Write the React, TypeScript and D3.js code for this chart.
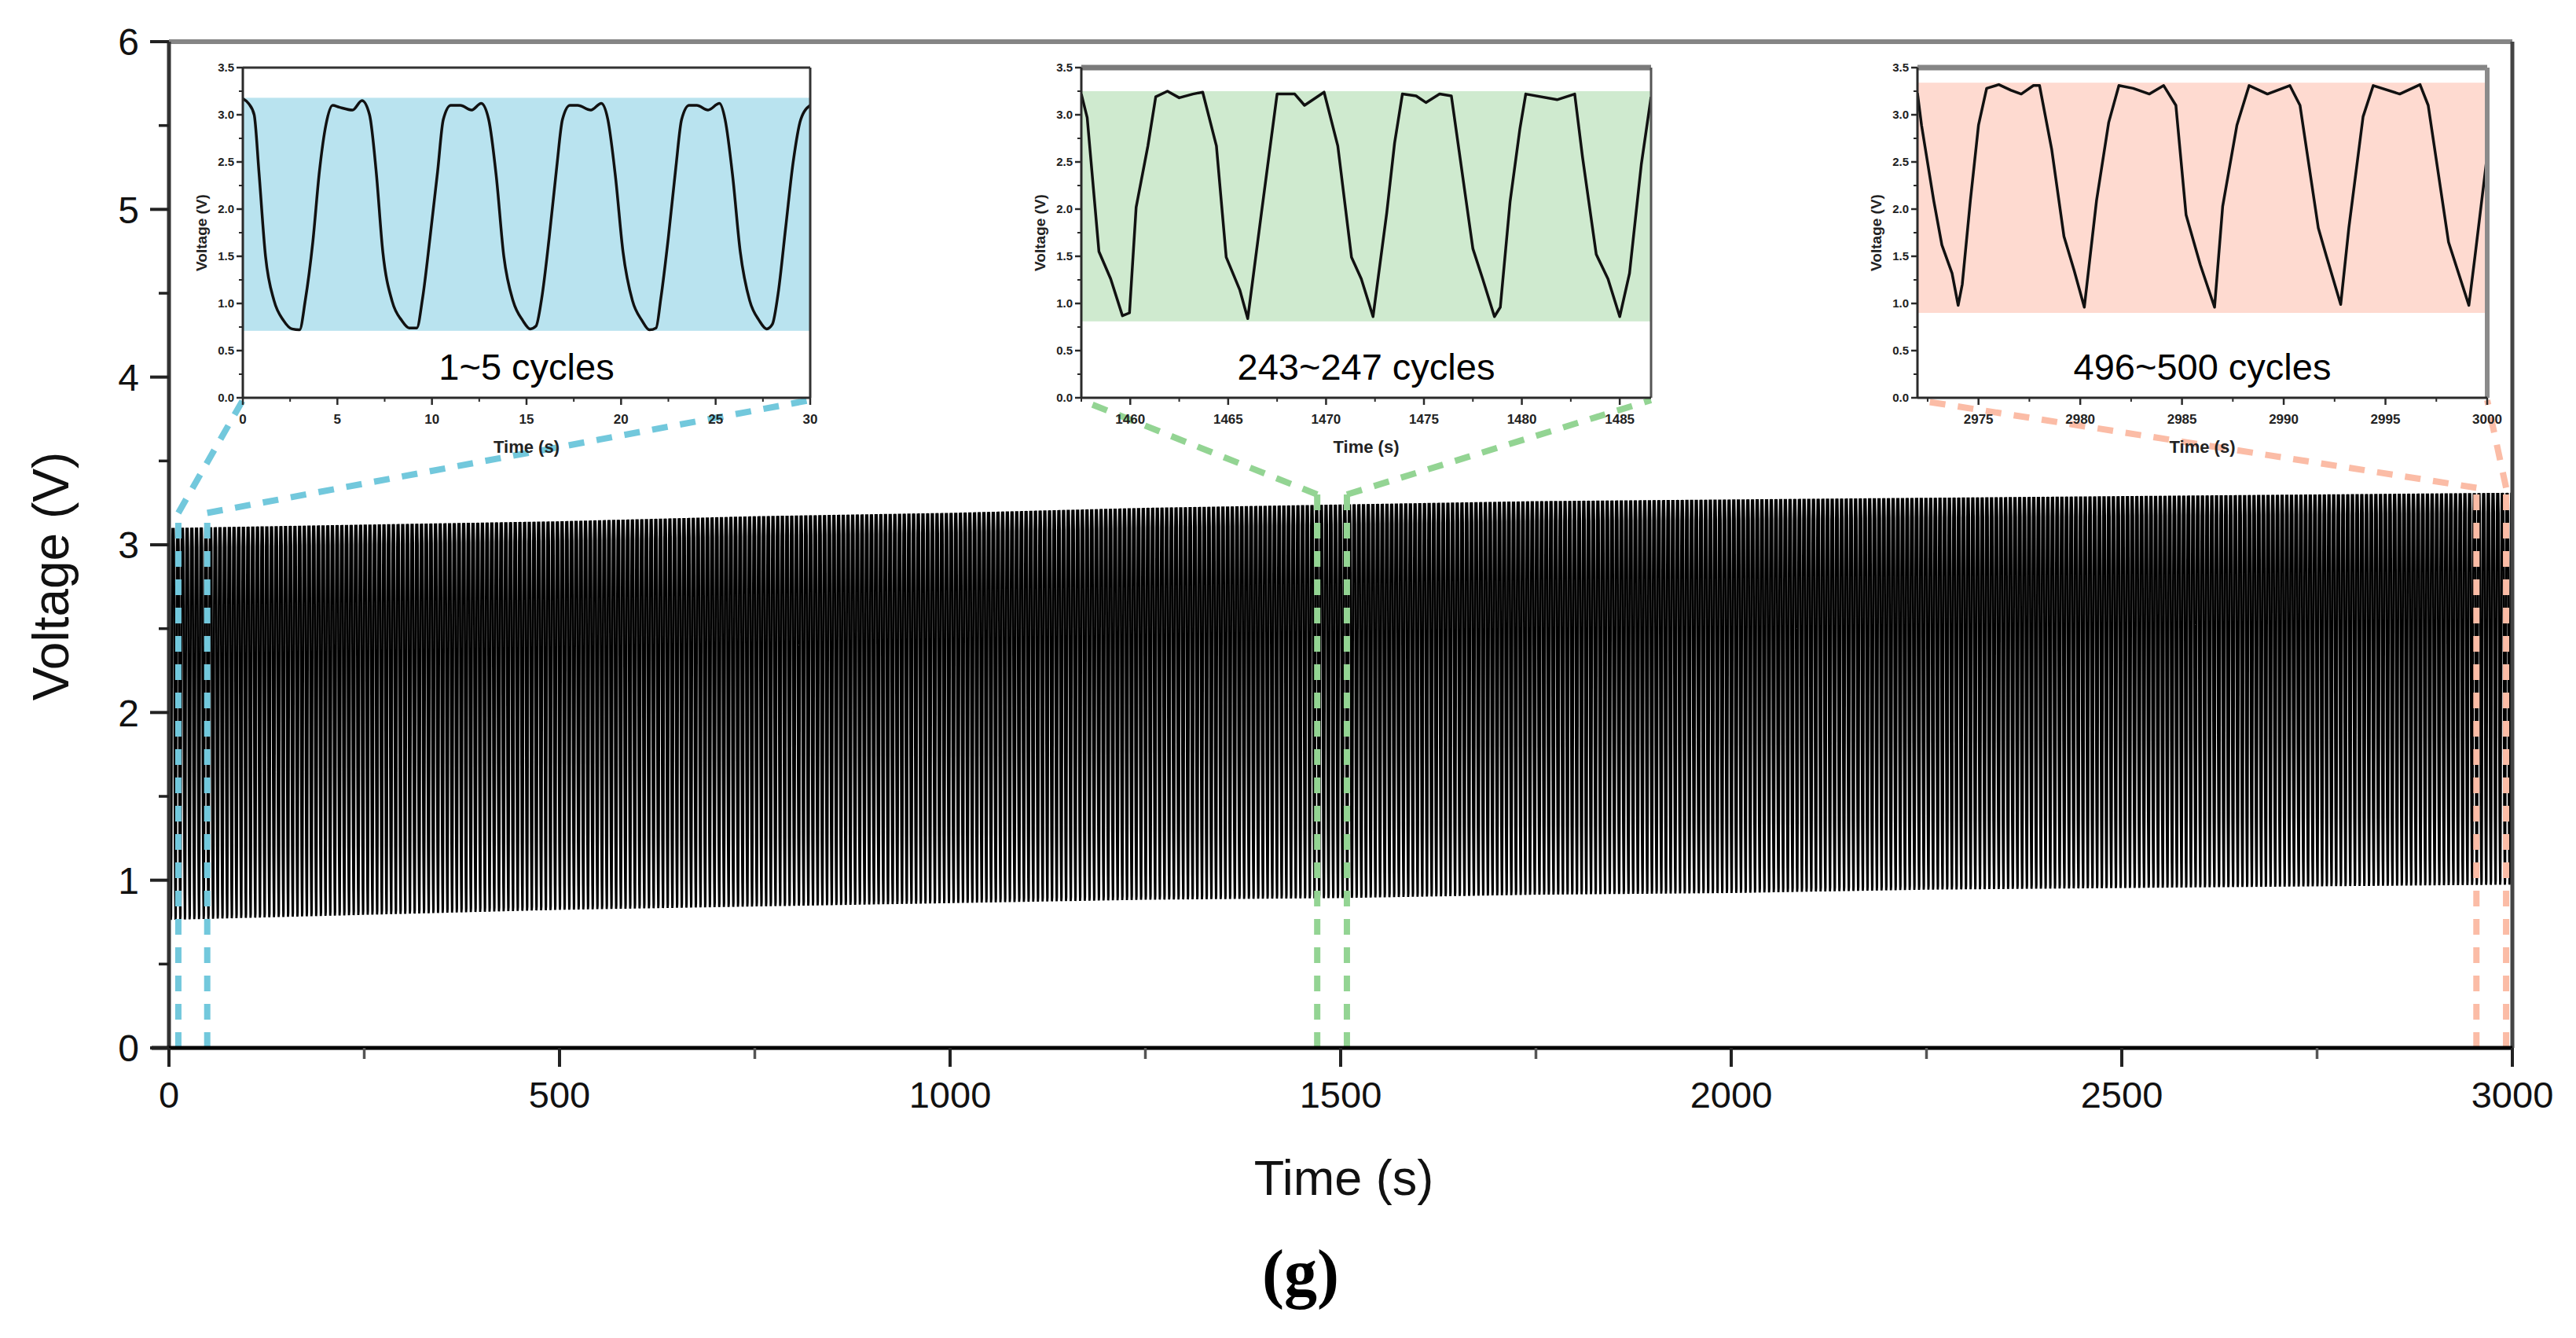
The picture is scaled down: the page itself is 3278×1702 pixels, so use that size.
import React from 'react';
import * as d3 from 'd3';

// ---- main trace: envelope ----
const ENVELOPE_T = [0, 250, 500, 750, 1000, 1250, 1500, 1750, 2000, 2250, 2500, 2750, 3000];
const ENVELOPE_UPPER = [3.1, 3.12, 3.14, 3.17, 3.19, 3.22, 3.24, 3.26, 3.27, 3.28, 3.29, 3.3, 3.31];
const ENVELOPE_LOWER = [0.74, 0.77, 0.8, 0.82, 0.84, 0.86, 0.87, 0.89, 0.9, 0.92, 0.93, 0.94, 0.95];

// one charge/discharge cycle (fraction of period, fraction of swing)
const CYCLE_PHASE = [0, 0.08, 0.14, 0.2, 0.27, 0.34, 0.4, 0.46, 0.52, 0.58, 0.64, 0.7, 0.76, 0.84, 0.92, 1];
const CYCLE_LEVEL = [1, 0.95, 0.7, 0.38, 0.18, 0.07, 0.01, 0.02, 0.2, 0.5, 0.8, 0.95, 1, 0.96, 0.99, 1];
const CYCLE_COUNT = 500;
const CYCLE_PERIOD = 6;

const X_TICKS = [0, 500, 1000, 1500, 2000, 2500, 3000];
const Y_TICKS = [0, 1, 2, 3, 4, 5, 6];

// ---- zoomed windows ----
const ZOOM_LABELS = ['1~5 cycles', '243~247 cycles', '496~500 cycles'];
const ZOOM_START = [12, 1470, 2954];
const ZOOM_END = [49, 1508, 2992];
const ZOOM_TOP = [3.19, 3.3, 3.34];
const ZOOM_DOMAIN: [number, number][] = [[0, 30], [1457.5, 1486.6], [2972, 3000]];
const ZOOM_XTICKS = [
  [0, 5, 10, 15, 20, 25, 30],
  [1460, 1465, 1470, 1475, 1480, 1485],
  [2975, 2980, 2985, 2990, 2995, 3000],
];
const ZOOM_BAND: [number, number][] = [[0.71, 3.18], [0.81, 3.25], [0.9, 3.34]];
const INSET_YTICKS = [0, 0.5, 1, 1.5, 2, 2.5, 3, 3.5];

const INSET1: [number, number][] = [
  [0, 3.17], [0.3, 3.12], [0.6, 3.0], [0.85, 2.4], [1.2, 1.5], [1.65, 1.03], [2.15, 0.82], [2.6, 0.73], [3.0, 0.72],
  [3.3, 1.03], [3.7, 1.65], [4.05, 2.4], [4.4, 2.9], [4.75, 3.1], [5.1, 3.08], [5.8, 3.05], [6.3, 3.15],
  [6.7, 3.0], [7.05, 2.4], [7.4, 1.55], [7.9, 1.02], [8.4, 0.82], [8.8, 0.74], [9.2, 0.74], [9.5, 1.05], [9.9, 1.7],
  [10.3, 2.4], [10.6, 2.95], [11.0, 3.1], [11.5, 3.1], [12.1, 3.05], [12.6, 3.12],
  [13.0, 2.95], [13.4, 2.35], [13.8, 1.5], [14.3, 1.02], [14.8, 0.82], [15.2, 0.73], [15.5, 0.76], [15.8, 1.05],
  [16.2, 1.7], [16.6, 2.45], [16.9, 2.95], [17.3, 3.1], [17.7, 3.1], [18.4, 3.05], [18.95, 3.12],
  [19.3, 2.95], [19.7, 2.35], [20.1, 1.55], [20.6, 1.03], [21.1, 0.82], [21.5, 0.72], [21.85, 0.74], [22.1, 1.05],
  [22.5, 1.7], [22.9, 2.45], [23.2, 2.95], [23.6, 3.1], [24.0, 3.1], [24.6, 3.05], [25.2, 3.12],
  [25.5, 2.95], [25.9, 2.35], [26.3, 1.55], [26.8, 1.03], [27.3, 0.82], [27.7, 0.73], [28.0, 0.78], [28.3, 1.1],
  [28.7, 1.8], [29.1, 2.5], [29.5, 2.95], [30, 3.1],
];

const INSET2: [number, number][] = [
  [1457.5, 3.22], [1457.8, 2.97], [1458.4, 1.55], [1459, 1.26], [1459.6, 0.87], [1459.96, 0.9], [1460.3, 2.02],
  [1460.9, 2.67], [1461.3, 3.19], [1461.9, 3.25], [1462.5, 3.18], [1463.2, 3.22], [1463.7, 3.24], [1464.4, 2.67],
  [1464.9, 1.49], [1465.6, 1.14], [1466, 0.84], [1466.7, 1.96], [1467.5, 3.22], [1468.4, 3.22], [1468.9, 3.1],
  [1469.9, 3.24], [1470.6, 2.67], [1471.3, 1.49], [1471.8, 1.26], [1472.4, 0.86], [1473.1, 1.96], [1473.5, 2.7],
  [1473.9, 3.22], [1474.6, 3.2], [1475.1, 3.13], [1475.8, 3.22], [1476.4, 3.2], [1476.8, 2.61], [1477.5, 1.58],
  [1478, 1.26], [1478.6, 0.86], [1478.9, 0.96], [1479.4, 2.08], [1479.9, 2.85], [1480.2, 3.22], [1481.8, 3.16],
  [1482.7, 3.22], [1483.1, 2.55], [1483.8, 1.52], [1484.4, 1.26], [1485, 0.86], [1485.5, 1.32], [1486.1, 2.47],
  [1486.6, 3.19],
];

const INSET3: [number, number][] = [
  [2972, 3.23], [2972.2, 2.89], [2972.8, 2.09], [2973.2, 1.62], [2973.7, 1.32], [2974, 0.98], [2974.2, 1.2],
  [2974.6, 2.09], [2975, 2.89], [2975.4, 3.28], [2976, 3.32], [2976.6, 3.26], [2977.1, 3.22], [2977.7, 3.31],
  [2978, 3.31], [2978.6, 2.63], [2979.2, 1.71], [2979.7, 1.35], [2980.2, 0.96], [2980.8, 2.09], [2981.4, 2.92],
  [2981.9, 3.31], [2982.6, 3.28], [2983.4, 3.22], [2984.1, 3.31], [2984.7, 3.1], [2985.2, 1.94], [2985.9, 1.41],
  [2986.6, 0.96], [2987, 2.03], [2987.7, 2.89], [2988.3, 3.31], [2989.2, 3.22], [2990.3, 3.31], [2990.8, 3.1],
  [2991.7, 1.8], [2992.1, 1.5], [2992.8, 0.99], [2993.2, 1.8], [2993.9, 2.98], [2994.4, 3.31], [2995.7, 3.22],
  [2996.7, 3.32], [2997.1, 3.1], [2998.1, 1.65], [2999.1, 0.98], [2999.4, 1.5], [3000, 2.57],
];

const INSET_DATA = [INSET1, INSET2, INSET3];

// ---- styling / layout ----
const W = 3278;
const H = 1702;
const M = { left: 215, right: 3197, top: 53, bottom: 1333 };
const INSET_BOX = [
  { x0: 309, x1: 1031, y0: 86, y1: 506 },
  { x0: 1376, x1: 2101, y0: 86, y1: 506 },
  { x0: 2440, x1: 3165, y0: 86, y1: 506 },
];
const ZOOM_LINE = ['#72c8dc', '#93d493', '#fbbca6'];
const ZOOM_FILL = ['#b9e3ef', '#cfeacf', '#fedad0'];
const INSET_TOP = [
  { stroke: '#333', width: 3 },
  { stroke: '#7a7a7a', width: 7 },
  { stroke: '#858585', width: 7 },
];
const INSET_RIGHT = [
  { stroke: '#333', width: 3 },
  { stroke: '#555', width: 3 },
  { stroke: '#8a8a8a', width: 6 },
];
const SANS = "'Liberation Sans', Arial, sans-serif";

type Pt = [number, number];

function Inset({ idx }: { idx: number }) {
  const b = INSET_BOX[idx];
  const x = d3.scaleLinear().domain(ZOOM_DOMAIN[idx]).range([b.x0, b.x1]);
  const y = d3.scaleLinear().domain([0, 3.5]).range([b.y1, b.y0]);
  const line = d3
    .line<Pt>()
    .x((d) => x(d[0]))
    .y((d) => y(d[1]))
    .curve(idx === 0 ? d3.curveMonotoneX : d3.curveLinear);
  const [lo, hi] = ZOOM_BAND[idx];
  const xt = ZOOM_XTICKS[idx];
  const minorX: number[] = [];
  const [d0, d1] = ZOOM_DOMAIN[idx];
  for (let v = Math.ceil(d0 / 2.5) * 2.5; v <= d1 + 1e-6; v += 2.5) {
    if (!xt.includes(v)) minorX.push(v);
  }
  const minorY = INSET_YTICKS.slice(0, -1).map((v) => v + 0.25);
  const clipId = `inset-clip-${idx}`;
  const cx = (b.x0 + b.x1) / 2;
  return (
    <g>
      <defs>
        <clipPath id={clipId}>
          <rect x={b.x0} y={b.y0} width={b.x1 - b.x0} height={b.y1 - b.y0} />
        </clipPath>
      </defs>
      <rect x={b.x0} y={b.y0} width={b.x1 - b.x0} height={b.y1 - b.y0} fill="#fff" />
      <rect x={b.x0} y={y(hi)} width={b.x1 - b.x0} height={y(lo) - y(hi)} fill={ZOOM_FILL[idx]} />
      <path
        d={line(INSET_DATA[idx]) || ''}
        fill="none"
        stroke="#111"
        strokeWidth={3.5}
        strokeLinejoin="round"
        clipPath={`url(#${clipId})`}
      />
      <text x={cx} y={b.y1 - 23} textAnchor="middle" fontFamily={SANS} fontSize={47} fill="#000">
        {ZOOM_LABELS[idx]}
      </text>
      {/* frame */}
      <line x1={b.x0} x2={b.x1} y1={b.y0} y2={b.y0} stroke={INSET_TOP[idx].stroke} strokeWidth={INSET_TOP[idx].width} />
      <line x1={b.x1} x2={b.x1} y1={b.y0} y2={b.y1} stroke={INSET_RIGHT[idx].stroke} strokeWidth={INSET_RIGHT[idx].width} />
      <line x1={b.x0} x2={b.x0} y1={b.y0} y2={b.y1} stroke="#2a2a2a" strokeWidth={3} />
      <line x1={b.x0} x2={b.x1} y1={b.y1} y2={b.y1} stroke="#2a2a2a" strokeWidth={3} />
      {/* y axis */}
      {INSET_YTICKS.map((v) => (
        <g key={`yt${v}`}>
          <line x1={b.x0 - 8} x2={b.x0} y1={y(v)} y2={y(v)} stroke="#2a2a2a" strokeWidth={2.5} />
          <text
            x={b.x0 - 11}
            y={y(v)}
            dy="0.35em"
            textAnchor="end"
            fontFamily={SANS}
            fontWeight="bold"
            fontSize={15}
            fill="#222"
          >
            {v.toFixed(1)}
          </text>
        </g>
      ))}
      {minorY.map((v) => (
        <line key={`ym${v}`} x1={b.x0 - 5} x2={b.x0} y1={y(v)} y2={y(v)} stroke="#2a2a2a" strokeWidth={2} />
      ))}
      <text
        transform={`translate(${b.x0 - 46},${(b.y0 + b.y1) / 2}) rotate(-90)`}
        textAnchor="middle"
        fontFamily={SANS}
        fontWeight="bold"
        fontSize={19}
        fill="#222"
      >
        Voltage (V)
      </text>
      {/* x axis */}
      {xt.map((v) => (
        <g key={`xt${v}`}>
          <line x1={x(v)} x2={x(v)} y1={b.y1} y2={b.y1 + 9} stroke="#2a2a2a" strokeWidth={2.5} />
          <text x={x(v)} y={b.y1 + 33} textAnchor="middle" fontFamily={SANS} fontWeight="bold" fontSize={17} fill="#222">
            {v}
          </text>
        </g>
      ))}
      {minorX.map((v) => (
        <line key={`xm${v}`} x1={x(v)} x2={x(v)} y1={b.y1} y2={b.y1 + 5} stroke="#2a2a2a" strokeWidth={2} />
      ))}
      <text x={cx} y={b.y1 + 70} textAnchor="middle" fontFamily={SANS} fontWeight="bold" fontSize={22} fill="#222">
        Time (s)
      </text>
    </g>
  );
}

export default function App() {
  const x = d3.scaleLinear().domain([0, 3000]).range([M.left, M.right]);
  const y = d3.scaleLinear().domain([0, 6]).range([M.bottom, M.top]);
  const upper = d3.scaleLinear().domain(ENVELOPE_T).range(ENVELOPE_UPPER);
  const lower = d3.scaleLinear().domain(ENVELOPE_T).range(ENVELOPE_LOWER);

  // repeat the read cycle shape across the measured envelope
  const pts: Pt[] = [];
  for (let c = 0; c < CYCLE_COUNT; c++) {
    CYCLE_PHASE.forEach((p, j) => {
      if (c > 0 && j === 0) return;
      const t = (c + p) * CYCLE_PERIOD;
      const lo = lower(t);
      const hi = upper(t);
      pts.push([t, lo + CYCLE_LEVEL[j] * (hi - lo)]);
    });
  }
  const mainPath =
    d3
      .line<Pt>()
      .x((d) => x(d[0]))
      .y((d) => y(d[1]))(pts) || '';

  const xMinor = d3.range(250, 3000, 500);
  const yMinor = d3.range(0.5, 6, 1);

  return (
    <svg
      width={W}
      height={H}
      viewBox={`0 0 ${W} ${H}`}
      style={{ position: 'absolute', left: 0, top: 0, display: 'block', background: '#fff' }}
    >
      <rect x={0} y={0} width={W} height={H} fill="#fff" />

      {/* main trace */}
      <path d={mainPath} fill="none" stroke="#000" strokeWidth={2.8} strokeLinejoin="bevel" />

      {/* zoom connectors */}
      {ZOOM_START.map((t0, i) => {
        const t1 = ZOOM_END[i];
        const yt = y(ZOOM_TOP[i]);
        const b = INSET_BOX[i];
        const common = {
          stroke: ZOOM_LINE[i],
          strokeWidth: 8,
          strokeDasharray: '20 16',
          fill: 'none',
        };
        return (
          <g key={`zc${i}`}>
            <line x1={x(t0)} x2={x(t0)} y1={y(0)} y2={yt} {...common} />
            <line x1={x(t1)} x2={x(t1)} y1={y(0)} y2={yt} {...common} />
            <line x1={x(t0)} y1={yt} x2={b.x0} y2={b.y1 + 3} {...common} />
            <line x1={x(t1)} y1={yt} x2={b.x1} y2={b.y1 + 3} {...common} />
          </g>
        );
      })}

      {/* insets */}
      {INSET_BOX.map((_, i) => (
        <Inset key={`inset${i}`} idx={i} />
      ))}

      {/* main frame */}
      <line x1={M.left} x2={M.right} y1={M.top} y2={M.top} stroke="#858585" strokeWidth={6} />
      <line x1={M.right} x2={M.right} y1={M.top} y2={M.bottom} stroke="#444" strokeWidth={5} />
      <line x1={M.left} x2={M.left} y1={M.top} y2={M.bottom} stroke="#333" strokeWidth={5} />
      <line x1={M.left - 22} x2={M.right} y1={M.bottom} y2={M.bottom} stroke="#000" strokeWidth={5} />

      {/* y axis */}
      {Y_TICKS.map((v) => (
        <g key={`my${v}`}>
          <line x1={M.left - 24} x2={M.left} y1={y(v)} y2={y(v)} stroke="#222" strokeWidth={4} />
          <text x={M.left - 38} y={y(v)} dy="0.36em" textAnchor="end" fontFamily={SANS} fontSize={48} fill="#111">
            {v}
          </text>
        </g>
      ))}
      {yMinor.map((v) => (
        <line key={`mym${v}`} x1={M.left - 13} x2={M.left} y1={y(v)} y2={y(v)} stroke="#222" strokeWidth={3.5} />
      ))}
      <text
        transform={`translate(87,${(M.top + M.bottom) / 2 + 40}) rotate(-90)`}
        textAnchor="middle"
        fontFamily={SANS}
        fontSize={64}
        fill="#111"
      >
        Voltage (V)
      </text>

      {/* x axis */}
      {X_TICKS.map((v) => (
        <g key={`mx${v}`}>
          <line x1={x(v)} x2={x(v)} y1={M.bottom} y2={M.bottom + 24} stroke="#222" strokeWidth={4} />
          <text x={x(v)} y={1409} textAnchor="middle" fontFamily={SANS} fontSize={47} fill="#111">
            {v}
          </text>
        </g>
      ))}
      {xMinor.map((v) => (
        <line key={`mxm${v}`} x1={x(v)} x2={x(v)} y1={M.bottom} y2={M.bottom + 14} stroke="#555" strokeWidth={3.5} />
      ))}
      <text x={1710} y={1520} textAnchor="middle" fontFamily={SANS} fontSize={63} fill="#111">
        Time (s)
      </text>

      <text
        x={1655}
        y={1648}
        textAnchor="middle"
        fontFamily="'Liberation Serif', 'Times New Roman', serif"
        fontWeight="bold"
        fontSize={84}
        fill="#000"
      >
        (g)
      </text>
    </svg>
  );
}
